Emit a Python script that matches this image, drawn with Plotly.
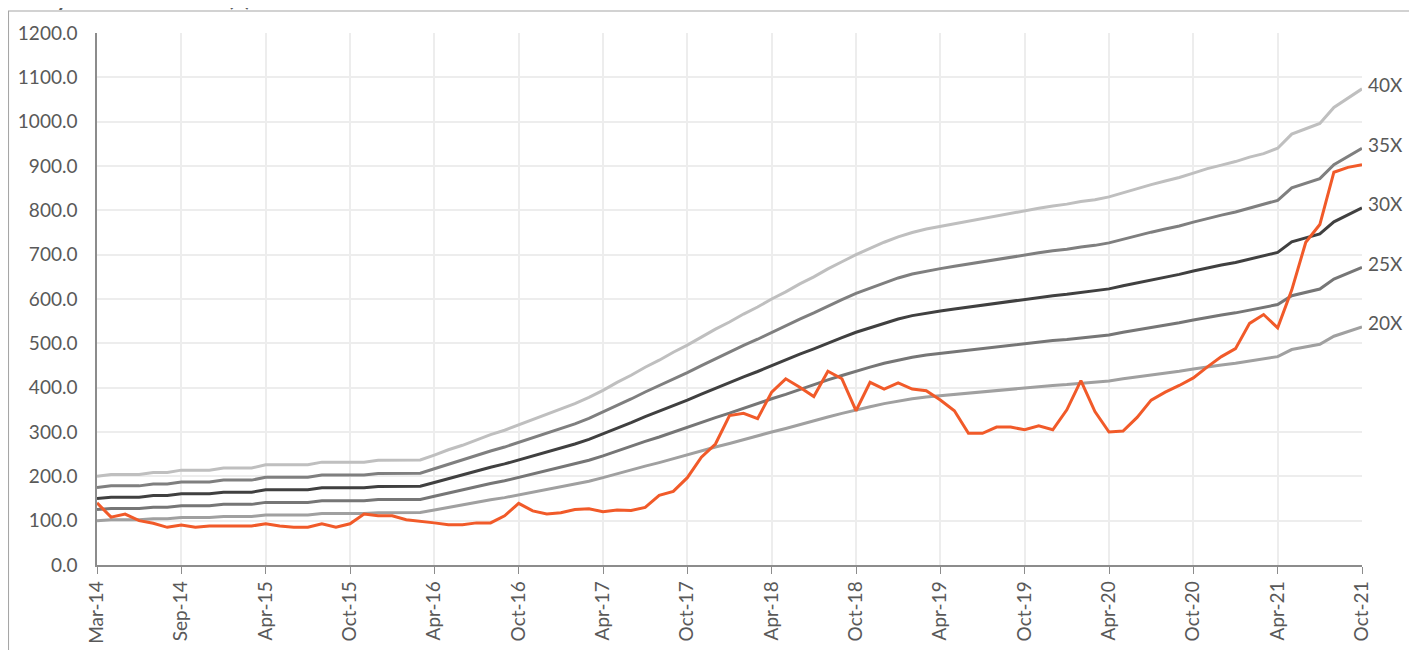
import pandas as pd
import plotly.graph_objects as go

# Monthly categories (Mar-14 .. Oct-21, one month absent in the source series)
months = [m for m in pd.date_range("2014-03-01", "2021-10-01", freq="MS").strftime("%b-%y") if m != "Feb-15"]
tick_labels = ["Mar-14", "Sep-14", "Apr-15", "Oct-15", "Apr-16", "Oct-16", "Apr-17", "Oct-17",
               "Apr-18", "Oct-18", "Apr-19", "Oct-19", "Apr-20", "Oct-20", "Apr-21", "Oct-21"]

# Share price (INR)
price = [140, 108, 115, 100, 94, 85, 90, 85, 88, 88,
         88, 88, 93, 88, 85, 85, 93, 85, 93, 115,
         111, 111, 102, 99, 95, 91, 91, 95, 95, 111,
         139, 122, 115, 118, 125, 127, 120, 124, 123, 130,
         157, 166, 197, 243, 273, 337, 342, 330, 390, 420,
         401, 380, 437, 420, 348, 412, 397, 411, 397, 393,
         372, 348, 297, 297, 311, 311, 305, 314, 305, 350,
         416, 346, 300, 302, 333, 372, 390, 405, 422, 447,
         470, 488, 545, 565, 535, 620, 728, 768, 886, 897, 903]

# One-year forward EPS used for the P/E bands
eps = [5.00, 5.10, 5.10, 5.10, 5.22, 5.22, 5.35, 5.35, 5.35, 5.47,
       5.47, 5.47, 5.65, 5.65, 5.65, 5.65, 5.80, 5.80, 5.80, 5.80,
       5.90, 5.90, 5.90, 5.92, 6.20, 6.50, 6.75, 7.05, 7.35, 7.60,
       7.90, 8.18, 8.50, 8.80, 9.10, 9.45, 9.85, 10.30, 10.70, 11.15,
       11.55, 12.00, 12.40, 12.85, 13.30, 13.70, 14.15, 14.55, 15.00, 15.40,
       15.85, 16.25, 16.70, 17.10, 17.50, 17.85, 18.20, 18.50, 18.75, 18.95,
       19.10, 19.25, 19.40, 19.55, 19.70, 19.85, 20.00, 20.12, 20.25, 20.35,
       20.50, 20.60, 20.76, 21.00, 21.20, 21.45, 21.65, 21.85, 22.10, 22.35,
       22.55, 22.75, 23.00, 23.20, 23.50, 24.30, 24.60, 24.90, 25.80, 26.30, 26.85]

multiples = [40, 35, 30, 25, 20]
band_colors = ["#BFBFBF", "#7F7F7F", "#404040", "#767676", "#A0A0A0"]

font = "Lato, 'Open Sans', sans-serif"
text_color = "#595959"

fig = go.Figure()

for m, c in zip(multiples, band_colors):
    band = [m * e for e in eps]
    fig.add_trace(go.Scatter(x=months, y=band, mode="lines", name=f"{m}X",
                             line=dict(color=c, width=3)))
    fig.add_annotation(x=months[-1], y=band[-1], text=f"{m}X", showarrow=False,
                       xanchor="left", yanchor="middle", xshift=4, yshift=4,
                       font=dict(family=font, size=19, color=text_color))

fig.add_trace(go.Scatter(x=months, y=price, mode="lines", name="Price",
                         line=dict(color="#F15A29", width=3)))

# chart heading, cut off by the top edge in the source image
fig.add_annotation(xref="paper", yref="paper", x=-0.0703, y=1.038, xanchor="left", yanchor="bottom",
                   text="<b>One year forward P/E (x) band</b>", showarrow=False,
                   font=dict(family=font, size=22, color=text_color))

# outer frame
fig.add_shape(type="rect", xref="paper", yref="paper", x0=-0.0700, x1=1.0403, y0=-0.4, y1=1.0414,
              line=dict(color="#A6A6A6", width=1.2))

fig.update_xaxes(type="category", range=[0, len(months) - 1], automargin=False,
                 tickmode="array", tickvals=tick_labels, ticktext=tick_labels,
                 tickangle=-90, ticks="outside", ticklen=7, tickcolor="#8C8C8C",
                 showline=True, linecolor="#8C8C8C", linewidth=1.5,
                 showgrid=True, gridcolor="#EDEDED", gridwidth=1.5,
                 tickfont=dict(family=font, size=19, color=text_color))
fig.update_yaxes(range=[0, 1200], dtick=100, tickformat=".1f", automargin=False,
                 showline=True, linecolor="#8C8C8C", linewidth=1.5,
                 showgrid=True, gridcolor="#EDEDED", gridwidth=1.5, zeroline=False,
                 ticklabelstandoff=14,
                 tickfont=dict(family=font, size=19, color=text_color))

# the page body adds an 8px offset, so the figure is sized to 1409x642
fig.update_layout(width=1409, height=642, showlegend=False,
                  plot_bgcolor="white", paper_bgcolor="white",
                  margin=dict(l=89, r=55, t=25, b=85))

fig.write_html("out.html")
